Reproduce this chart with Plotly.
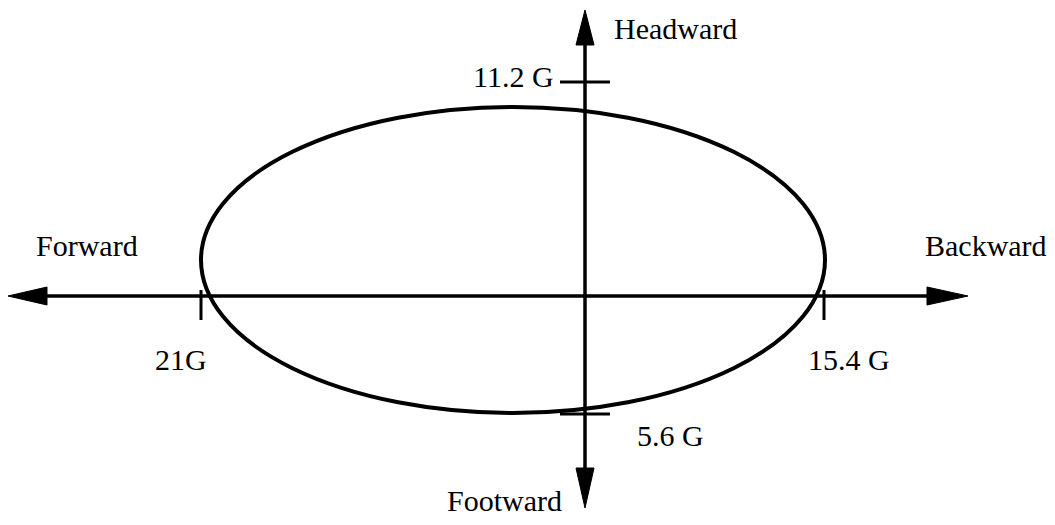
import plotly.graph_objects as go

# ---- data ----
directions = ["Forward", "Backward", "Headward", "Footward"]
limit_g = [21, 15.4, 11.2, 5.6]
limit_labels = ["21G", "15.4 G", "11.2 G", "5.6 G"]

# ---- schematic layout (diagram units, origin at axes crossing) ----
# tick location of each limit along its direction (schematic, not to scale)
tick_at = {"Forward": -384, "Backward": 239, "Headward": 214, "Footward": -118}
dir_label_xy = {"Forward": (-498, 51), "Backward": (401, 51),
                "Headward": (90, 268), "Footward": (-81, -204)}
limit_label_xy = {"Forward": (-404, -63), "Backward": (264, -63),
                  "Headward": (-72, 220), "Footward": (85, -139)}
ellipse_center = (-72, 36)
ellipse_half = (312, 153)

BLACK = "#000000"
FONT = dict(family="Liberation Serif, Times New Roman, serif", size=30, color=BLACK)

fig = go.Figure()
fig.add_trace(go.Scatter(x=[0], y=[0], mode="markers", marker=dict(opacity=0),
                         hoverinfo="skip", showlegend=False))

shapes = []
# axes
shapes.append(dict(type="line", x0=-540, y0=0, x1=345, y1=0, line=dict(color=BLACK, width=3.5)))
shapes.append(dict(type="line", x0=0, y0=-175, x1=0, y1=253, line=dict(color=BLACK, width=3.5)))
# arrowheads
for path in ["M -577 0 L -538 9 L -538 -9 Z",
             "M 383 0 L 342 9 L 342 -9 Z",
             "M 0 286 L -9 251 L 9 251 Z",
             "M 0 -212 L -9 -172 L 9 -172 Z"]:
    shapes.append(dict(type="path", path=path, fillcolor=BLACK, line=dict(color=BLACK, width=1)))

# envelope ellipse
cx, cy = ellipse_center
ax, by = ellipse_half
shapes.append(dict(type="circle", x0=cx - ax, x1=cx + ax, y0=cy - by, y1=cy + by,
                   line=dict(color=BLACK, width=4)))

# limit ticks
for d in directions:
    p = tick_at[d]
    if d in ("Forward", "Backward"):
        shapes.append(dict(type="line", x0=p, x1=p, y0=6, y1=-24, line=dict(color=BLACK, width=3)))
    else:
        shapes.append(dict(type="line", x0=-25, x1=25, y0=p, y1=p, line=dict(color=BLACK, width=3)))

annotations = []
for d, lab in zip(directions, limit_labels):
    x, y = dir_label_xy[d]
    annotations.append(dict(x=x, y=y, text=d, showarrow=False, font=FONT,
                            xanchor="center", yanchor="middle"))
    x, y = limit_label_xy[d]
    annotations.append(dict(x=x, y=y, text=lab, showarrow=False, font=FONT,
                            xanchor="center", yanchor="middle"))

fig.update_layout(
    width=1055, height=525,
    margin=dict(l=0, r=0, t=0, b=0),
    paper_bgcolor="white", plot_bgcolor="white",
    xaxis=dict(range=[-585, 470], visible=False, fixedrange=True),
    yaxis=dict(range=[-229, 296], visible=False, fixedrange=True),
    shapes=shapes, annotations=annotations, showlegend=False,
)

fig.write_html("out.html", config={"displayModeBar": False},
               post_script="document.body.style.margin='0';document.body.style.overflow='hidden';")
